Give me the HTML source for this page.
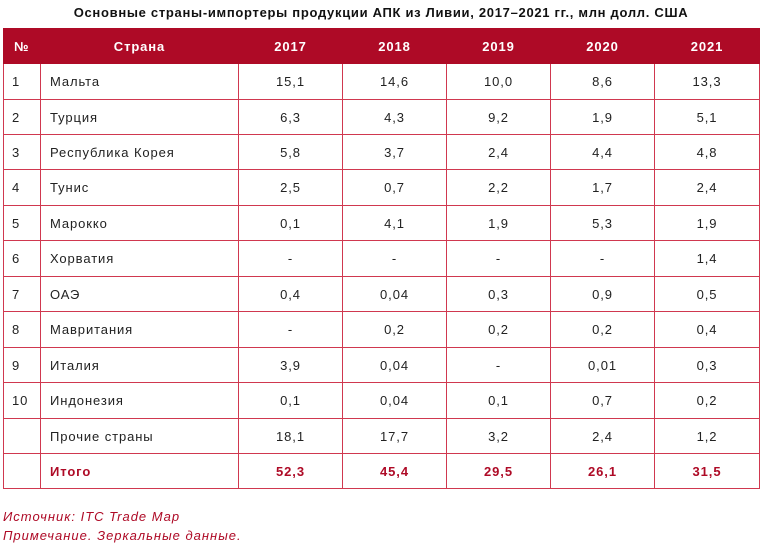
<!DOCTYPE html>
<html><head><meta charset="utf-8"><style>
body{margin:0;width:762px;height:550px;background:#fff;font-family:"Liberation Sans","DejaVu Sans",sans-serif;position:relative;overflow:hidden}
.title{position:absolute;left:0;width:762px;top:5px;text-align:center;font-weight:bold;font-size:13px;color:#111;letter-spacing:0.7px}
table{position:absolute;left:3px;top:28px;border-collapse:collapse;table-layout:fixed;width:756px}
td,th{border:1px solid #d0384f;font-size:13px;color:#222;padding:0;text-align:center;letter-spacing:0.9px}
th{background:#ae0a26;color:#fff;font-weight:bold;border-color:#ae0a26;height:34px}
td.n{text-align:left;padding-left:8px}
td.c{text-align:left;padding-left:9px}
tr.t td{color:#ae0a26;font-weight:bold}
.f{position:absolute;left:3px;font-style:italic;font-size:13px;color:#ae0a26;letter-spacing:1px}
</style></head><body>
<div class="title">Основные страны-импортеры продукции АПК из Ливии, 2017–2021 гг., млн долл. США</div>
<table>
<colgroup><col style="width:37px"><col style="width:198px"><col style="width:104px"><col style="width:104px"><col style="width:104px"><col style="width:104px"><col style="width:105px"></colgroup>
<tr><th style="text-align:left;padding-left:10px">№</th><th>Страна</th><th>2017</th><th>2018</th><th>2019</th><th>2020</th><th>2021</th></tr>
<tr style="height:36px"><td class="n">1</td><td class="c">Мальта</td><td>15,1</td><td>14,6</td><td>10,0</td><td>8,6</td><td>13,3</td></tr>
<tr style="height:35px"><td class="n">2</td><td class="c">Турция</td><td>6,3</td><td>4,3</td><td>9,2</td><td>1,9</td><td>5,1</td></tr>
<tr style="height:35px"><td class="n">3</td><td class="c">Республика Корея</td><td>5,8</td><td>3,7</td><td>2,4</td><td>4,4</td><td>4,8</td></tr>
<tr style="height:36px"><td class="n">4</td><td class="c">Тунис</td><td>2,5</td><td>0,7</td><td>2,2</td><td>1,7</td><td>2,4</td></tr>
<tr style="height:35px"><td class="n">5</td><td class="c">Марокко</td><td>0,1</td><td>4,1</td><td>1,9</td><td>5,3</td><td>1,9</td></tr>
<tr style="height:36px"><td class="n">6</td><td class="c">Хорватия</td><td>-</td><td>-</td><td>-</td><td>-</td><td>1,4</td></tr>
<tr style="height:35px"><td class="n">7</td><td class="c">ОАЭ</td><td>0,4</td><td>0,04</td><td>0,3</td><td>0,9</td><td>0,5</td></tr>
<tr style="height:36px"><td class="n">8</td><td class="c">Мавритания</td><td>-</td><td>0,2</td><td>0,2</td><td>0,2</td><td>0,4</td></tr>
<tr style="height:35px"><td class="n">9</td><td class="c">Италия</td><td>3,9</td><td>0,04</td><td>-</td><td>0,01</td><td>0,3</td></tr>
<tr style="height:36px"><td class="n">10</td><td class="c">Индонезия</td><td>0,1</td><td>0,04</td><td>0,1</td><td>0,7</td><td>0,2</td></tr>
<tr style="height:35px"><td class="n"></td><td class="c">Прочие страны</td><td>18,1</td><td>17,7</td><td>3,2</td><td>2,4</td><td>1,2</td></tr>
<tr class="t" style="height:35px"><td class="n"></td><td class="c">Итого</td><td>52,3</td><td>45,4</td><td>29,5</td><td>26,1</td><td>31,5</td></tr>
</table>
<div class="f" style="top:509px">Источник: ITC Trade Map</div>
<div class="f" style="top:528px">Примечание. Зеркальные данные.</div>
</body></html>
